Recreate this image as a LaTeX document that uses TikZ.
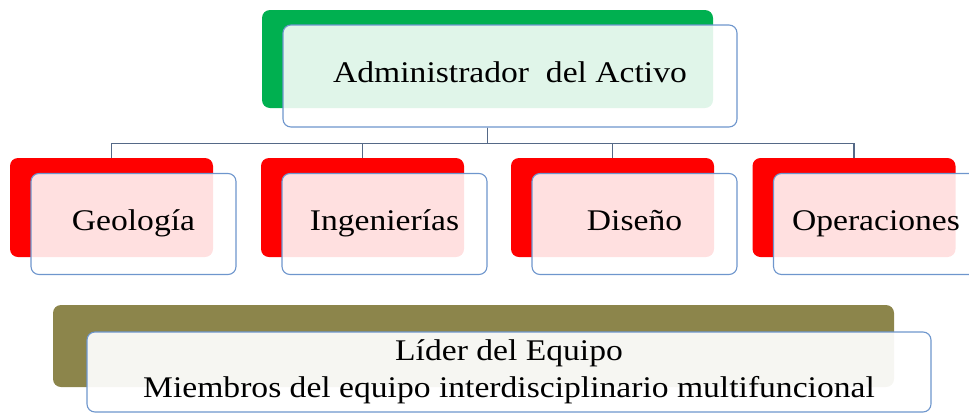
\documentclass[tikz,border=0pt]{standalone}
\usepackage{fontspec}
\setmainfont{Liberation Serif}[FakeStretch=1.12]
\usepackage{tikz}
\usetikzlibrary{calc}
\definecolor{verde}{RGB}{0,176,80}
\definecolor{rojo}{RGB}{255,0,0}
\definecolor{oliva}{RGB}{140,133,75}
\definecolor{borde}{RGB}{110,150,205}
\definecolor{linea}{RGB}{85,105,135}

\begin{document}
\begin{tikzpicture}[x=1pt,y=-1pt,
  fondo/.style={rectangle,rounded corners=8pt,inner sep=0pt},
  caja/.style={rectangle,rounded corners=8pt,draw=borde,line width=1.1pt,fill=white,fill opacity=0.88,text opacity=1,inner sep=0pt,align=center,font=\fontsize{30}{37}\selectfont,text=black},
  rotulo/.style={caja,text height=20pt,text depth=7pt},
  conector/.style={draw=linea,line width=1.1pt}]
\useasboundingbox (0,0) rectangle (969,413);
\node[fondo,fill=verde,minimum width=451pt,minimum height=98pt] (admfondo) at (487.5,59) {};
\node[rotulo,minimum width=454pt,minimum height=102pt] (adm) at ($(admfondo)+(22.5,17)$) {Administrador\ \ del Activo};
\node[fondo,fill=rojo,minimum width=203pt,minimum height=99pt] (geofondo) at (111.5,207.5) {};
\node[rotulo,minimum width=205pt,minimum height=101pt] (geo) at ($(geofondo)+(22,16.5)$) {Geología};
\node[fondo,fill=rojo,minimum width=203pt,minimum height=99pt] (ingfondo) at (362.5,207.5) {};
\node[rotulo,minimum width=205pt,minimum height=101pt] (ing) at ($(ingfondo)+(22,16.5)$) {Ingenierías};
\node[fondo,fill=rojo,minimum width=203pt,minimum height=99pt] (disfondo) at (612.5,207.5) {};
\node[rotulo,minimum width=205pt,minimum height=101pt] (dis) at ($(disfondo)+(22,16.5)$) {Diseño};
\node[fondo,fill=rojo,minimum width=203pt,minimum height=99pt] (opefondo) at (854,207.5) {};
\node[rotulo,minimum width=205pt,minimum height=101pt] (ope) at ($(opefondo)+(22,16.5)$) {Operaciones};
\node[fondo,fill=oliva,minimum width=841pt,minimum height=82pt] (equipofondo) at (473.5,346) {};
\node[caja,fill opacity=0.93,minimum width=844pt,minimum height=80pt] (equipo) at ($(equipofondo)+(35.5,26)$) {Líder del Equipo\\Miembros del equipo interdisciplinario multifuncional};
\draw[conector] (adm.south -| admfondo) -- ++(0,16) -| (geofondo.north);
\draw[conector] (adm.south -| admfondo) -- ++(0,16) -| (ingfondo.north);
\draw[conector] (adm.south -| admfondo) -- ++(0,16) -| (disfondo.north);
\draw[conector] (adm.south -| admfondo) -- ++(0,16) -| (opefondo.north);
\end{tikzpicture}
\end{document}
